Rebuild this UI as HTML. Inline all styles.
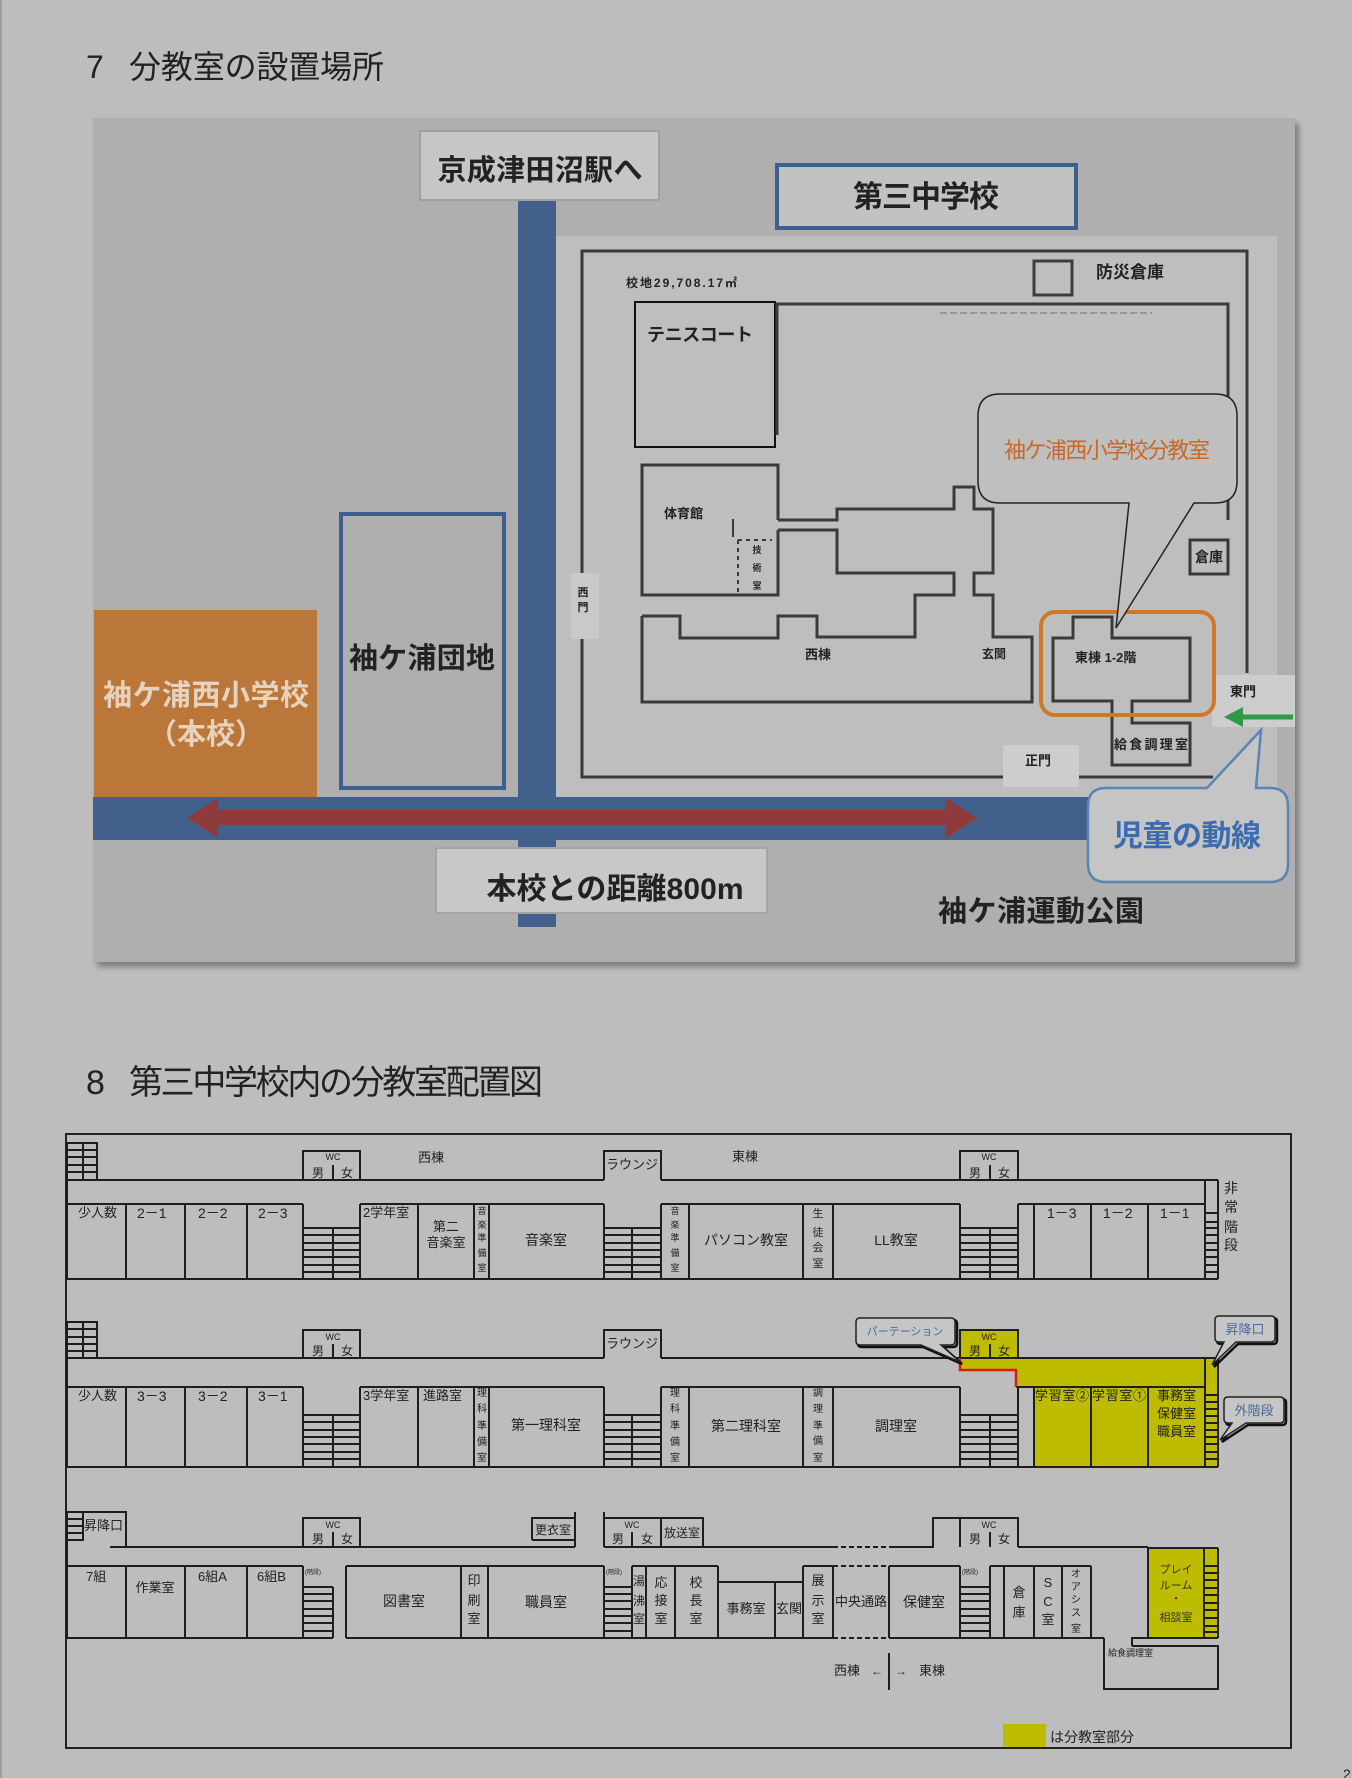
<!DOCTYPE html>
<html><head><meta charset="utf-8">
<style>
html,body{margin:0;padding:0;background:#bdbdbd;}
svg{display:block}
.t{font-family:"Liberation Sans","Noto Sans CJK JP",sans-serif;fill:#222;}
.b{font-weight:bold;}
.ln{fill:none;stroke:#1e1e1e;stroke-width:2;}
.bl{fill:none;stroke:#3a3a3a;stroke-width:3;}
</style></head>
<body>
<svg width="1352" height="1778" viewBox="0 0 1352 1778" xmlns="http://www.w3.org/2000/svg">
<defs>
<filter id="sh" x="-5%" y="-5%" width="110%" height="110%"><feGaussianBlur stdDeviation="3"/></filter>
</defs>
<rect x="0" y="0" width="1352" height="1778" fill="#bdbdbd"/>
<rect x="0" y="0" width="2" height="1778" fill="#9d9d9d"/>

<!-- Title 7 -->
<text class="t" x="86" y="78" font-size="32">7</text>
<text class="t" x="129" y="78" font-size="32" textLength="255">分教室の設置場所</text>

<!-- MAP -->
<rect x="97" y="123" width="1202" height="844" fill="#7e7e7e" filter="url(#sh)"/>
<rect x="93" y="118" width="1202" height="844" fill="#afafaf"/>
<rect x="556" y="236" width="721" height="561" fill="#bebebe"/>

<!-- roads -->
<rect x="518" y="200" width="38" height="727" fill="#41618c"/>
<rect x="93" y="797" width="997" height="43" fill="#41618c"/>

<!-- orange honkou -->
<rect x="94" y="610" width="223" height="187" fill="#bb763a"/>
<text class="t b" x="206" y="705" font-size="29" text-anchor="middle" style="fill:#e6d3bf" textLength="206">袖ケ浦西小学校</text>
<text class="t b" x="206" y="744" font-size="29" text-anchor="middle" style="fill:#e6d3bf">（本校）</text>

<!-- red arrow -->
<path d="M187,818 L218,798 L218,810 L946,810 L946,798 L977,818 L946,838 L946,825 L218,825 L218,838 Z" fill="#8f3b3b"/>

<!-- danchi -->
<rect x="341" y="514" width="163" height="274" fill="none" stroke="#3d5f8f" stroke-width="4"/>
<text class="t b" x="422" y="668" font-size="29" text-anchor="middle" textLength="146">袖ケ浦団地</text>

<!-- station box -->
<rect x="420" y="131" width="239" height="69" fill="#c6c6c6" stroke="#a0a0a0" stroke-width="2"/>
<text class="t b" x="540" y="180" font-size="29" text-anchor="middle" textLength="205">京成津田沼駅へ</text>

<!-- daisan chu box -->
<rect x="777" y="165" width="299" height="63" fill="#c2c2c2" stroke="#3d5f8f" stroke-width="4"/>
<text class="t b" x="926" y="207" font-size="30" text-anchor="middle" textLength="146">第三中学校</text>

<!-- distance box -->
<rect x="436" y="848" width="331" height="65" fill="#c8c8c8" stroke="#a5a5a5" stroke-width="2"/>
<text class="t b" x="615" y="899" font-size="30" text-anchor="middle" textLength="257">本校との距離800m</text>

<text class="t b" x="938" y="921" font-size="29" textLength="206">袖ケ浦運動公園</text>

<!-- campus boundary -->
<path class="bl" d="M582,575 V251 H1247 V673 M582,638 V777 H1003 M1079,777 H1213"/>
<rect x="571" y="573" width="28" height="66" fill="#c9c9c9"/>
<text class="t b" x="583" y="596" font-size="11" text-anchor="middle">西</text>
<text class="t b" x="583" y="611" font-size="11" text-anchor="middle">門</text>
<rect x="1003" y="745" width="76" height="42" fill="#cdcdcd"/>
<text class="t b" x="1025" y="765" font-size="13">正門</text>
<rect x="1212" y="675" width="83" height="52" fill="#cdcdcd"/>
<text class="t b" x="1230" y="696" font-size="13">東門</text>
<!-- green arrow -->
<path d="M1293,717 H1240" stroke="#2f9a45" stroke-width="5" fill="none"/>
<polygon points="1224,717 1243,707 1243,727" fill="#2f9a45"/>

<text class="t b" x="626" y="287" font-size="12" textLength="111">校地29,708.17㎡</text>
<rect x="1034" y="261" width="38" height="34" fill="none" stroke="#3d3d3d" stroke-width="3"/>
<text class="t b" x="1096" y="278" font-size="17">防災倉庫</text>

<rect x="635" y="302" width="140" height="145" fill="none" stroke="#111" stroke-width="2"/>
<text class="t b" x="647" y="341" font-size="18" textLength="106">テニスコート</text>

<path class="bl" d="M777,435 V304 H1228 V520"/>
<path d="M940,313 H1152" stroke="#8a8a8a" stroke-width="1.5" stroke-dasharray="7,3" fill="none"/>

<!-- buildings -->
<path class="bl" d="M778,520 V465 H642 V595 H778 V530"/>
<path class="bl" d="M642,616 H680 V638 H778 V616 H817 V637 H915 V595 H954 V573 H837 V530 H778 M778,520 H837 V509 H954 V487 H974 V509 H993 V573 H974 V595 H993 V637 H1032 V702 H642 V616"/>
<path d="M738,540 V595 M738,540 H772" stroke="#3a3a3a" stroke-width="2" stroke-dasharray="4,4" fill="none"/>
<path d="M733,519 V537" stroke="#3a3a3a" stroke-width="2"/>
<text class="t b" x="757" y="553" font-size="9" text-anchor="middle">技</text>
<text class="t b" x="757" y="571" font-size="9" text-anchor="middle">術</text>
<text class="t b" x="757" y="589" font-size="9" text-anchor="middle">室</text>
<text class="t b" x="664" y="518" font-size="13">体育館</text>
<text class="t b" x="805" y="659" font-size="13">西棟</text>
<text class="t b" x="982" y="658" font-size="12">玄関</text>

<rect x="1190" y="540" width="38" height="34" fill="none" stroke="#3a3a3a" stroke-width="3"/>
<text class="t b" x="1209" y="562" font-size="14" text-anchor="middle">倉庫</text>

<path class="bl" d="M1053,638 H1073 V617 H1112 V638 H1190 V701 H1132 V723 H1190 V765 H1112 V701 H1053 Z"/>
<text class="t b" x="1075" y="662" font-size="13">東棟 1-2階</text>
<text class="t b" x="1114" y="749" font-size="13" textLength="74">給食調理室</text>
<rect x="1041" y="612" width="173" height="103" rx="14" fill="none" stroke="#d0782a" stroke-width="4"/>

<!-- callout bunkyoshitsu -->
<path d="M1000,394 H1215 Q1237,394 1237,416 V481 Q1237,503 1215,503 H1194 L1116,628 L1129,503 H1000 Q978,503 978,481 V416 Q978,394 1000,394 Z" fill="#bfbfbf" stroke="#222" stroke-width="1.5"/>
<text class="t" x="1107" y="458" font-size="22" text-anchor="middle" style="fill:#c8682a" textLength="206">袖ケ浦西小学校分教室</text>

<!-- callout jido -->
<path d="M1106,788 H1207 L1261,730 L1256,788 H1270 Q1288,788 1288,806 V864 Q1288,882 1270,882 H1106 Q1088,882 1088,864 V806 Q1088,788 1106,788 Z" fill="#c5c5c5" stroke="#5a84b5" stroke-width="2.5"/>
<text class="t b" x="1187" y="846" font-size="30" text-anchor="middle" style="fill:#3c6cae" textLength="148">児童の動線</text>

<!-- Title 8 -->
<text class="t" x="86" y="1094" font-size="34">8</text>
<text class="t" x="129" y="1094" font-size="34" textLength="414">第三中学校内の分教室配置図</text>

<!-- FLOOR PLAN -->
<rect x="66" y="1134" width="1225" height="614" fill="none" stroke="#222" stroke-width="2"/>

<!-- yellow fills -->
<polygon points="960,1358 1218,1358 1218,1467 1034,1467 1034,1387 1016,1387 1016,1370 960,1370" fill="#bdbc00"/>
<rect x="960" y="1330" width="58" height="28" fill="#bdbc00"/>
<rect x="1148" y="1548" width="70" height="90" fill="#bdbc00"/>
<rect x="1003" y="1724" width="43" height="23" fill="#bdbc00"/>

<!-- Floor 2 -->
<path class="ln" d="M67,1143 H97 V1180 H67 M83,1143 V1180 M67,1150 H97 M67,1157 H97 M67,1165 H97 M67,1172 H97
M97,1180 H604 M303,1180 V1151 H360 V1180 M333,1165 V1180
M604,1180 V1151 H661 V1180 M661,1180 H1218
M960,1180 V1151 H1018 V1180 M990,1165 V1180
M1218,1180 V1279 M1205,1180 V1279
M67,1204 H303 M360,1204 H604 M661,1204 H960 M1018,1204 H1205
M67,1279 H1218 M67,1143 V1279
M126,1204 V1279 M185,1204 V1279 M247,1204 V1279 M303,1204 V1279 M360,1204 V1279 M418,1204 V1279 M474,1204 V1279 M489,1204 V1279 M604,1204 V1279 M661,1204 V1279 M689,1204 V1279 M803,1204 V1279 M833,1204 V1279 M960,1204 V1279 M1018,1204 V1279 M1034,1204 V1279 M1091,1204 V1279 M1148,1204 V1279
M303,1228 H360 M303,1235 H360 M303,1243 H360 M303,1250 H360 M303,1257 H360 M303,1265 H360 M303,1272 H360 M333,1228 V1279
M604,1228 H661 M604,1235 H661 M604,1243 H661 M604,1250 H661 M604,1257 H661 M604,1265 H661 M604,1272 H661 M632,1228 V1279
M960,1228 H1018 M960,1235 H1018 M960,1243 H1018 M960,1250 H1018 M960,1257 H1018 M960,1265 H1018 M960,1272 H1018 M990,1228 V1279
M1205,1213 H1218 M1205,1222 H1218 M1205,1228 H1218 M1205,1235 H1218 M1205,1243 H1218 M1205,1250 H1218 M1205,1257 H1218 M1205,1265 H1218 M1205,1272 H1218"/>

<!-- Floor 3 -->
<path class="ln" d="M67,1322 H97 V1358 H67 M83,1322 V1358 M67,1329 H97 M67,1337 H97 M67,1344 H97 M67,1351 H97
M97,1358 H604 M303,1358 V1330 H360 V1358 M333,1344 V1358
M604,1358 V1330 H661 V1358 M661,1358 H1218
M960,1358 V1330 H1018 V1358 M990,1344 V1358
M1218,1358 V1467 M1205,1358 V1467
M67,1387 H303 M360,1387 H604 M661,1387 H960 M1016,1387 H1205
M67,1467 H1218 M67,1322 V1467
M126,1387 V1467 M185,1387 V1467 M247,1387 V1467 M303,1387 V1467 M360,1387 V1467 M418,1387 V1467 M474,1387 V1467 M489,1387 V1467 M604,1387 V1467 M661,1387 V1467 M689,1387 V1467 M803,1387 V1467 M833,1387 V1467 M960,1387 V1467 M1018,1387 V1467 M1034,1387 V1467 M1091,1387 V1467 M1148,1387 V1467
M303,1415 H360 M303,1422 H360 M303,1430 H360 M303,1437 H360 M303,1444 H360 M303,1452 H360 M303,1459 H360 M333,1415 V1467
M604,1415 H661 M604,1422 H661 M604,1430 H661 M604,1437 H661 M604,1444 H661 M604,1452 H661 M604,1459 H661 M632,1415 V1467
M960,1415 H1018 M960,1422 H1018 M960,1430 H1018 M960,1437 H1018 M960,1444 H1018 M960,1452 H1018 M960,1459 H1018 M990,1415 V1467
M1205,1395 H1218 M1205,1402 H1218 M1205,1409 H1218 M1205,1416 H1218 M1205,1423 H1218 M1205,1430 H1218 M1205,1437 H1218 M1205,1444 H1218 M1205,1452 H1218 M1205,1459 H1218"/>
<path d="M960,1358 V1370 H1016 V1387" fill="none" stroke="#d41a1a" stroke-width="2.5"/>

<!-- Floor 1 -->
<path class="ln" d="M67,1512 H83 V1540 H67 M67,1519 H83 M67,1526 H83 M67,1533 H83 M67,1512 H126 V1547
M110,1547 H575 M303,1547 V1518 H360 V1547 M333,1532 V1547
M532,1540 V1518 H575 M532,1540 H575 M575,1512 V1547
M604,1512 V1547 M604,1518 H703 V1547 M661,1518 V1547 M632,1532 V1547
M604,1547 H833 M889,1547 H933 V1518 H1018 V1547 M960,1518 V1547 M990,1532 V1547 M1018,1547 H1148
M1148,1548 H1218 M1148,1548 V1638 M1218,1548 V1638 M1204,1548 V1638
M67,1566 H303 M346,1566 H604 M632,1566 H718 M718,1582 H803 M803,1566 H833 M889,1566 H960 M990,1566 H1091
M67,1638 H333 M346,1638 H833 M889,1638 H1104 M1132,1646 V1638 H1218
M67,1512 V1638
M126,1566 V1638 M185,1566 V1638 M247,1566 V1638 M303,1566 V1638 M346,1566 V1638 M461,1566 V1638 M488,1566 V1638 M604,1566 V1638 M632,1566 V1638 M646,1566 V1638 M675,1566 V1638 M718,1566 V1638 M775,1582 V1638 M803,1566 V1638 M833,1566 V1638 M889,1566 V1638 M960,1566 V1638 M990,1566 V1638 M1004,1566 V1638 M1034,1566 V1638 M1062,1566 V1638 M1091,1566 V1638
M303,1587 H333 M303,1594 H333 M303,1601 H333 M303,1609 H333 M303,1616 H333 M303,1623 H333 M303,1631 H333 M333,1587 V1638
M604,1587 H632 M604,1594 H632 M604,1601 H632 M604,1609 H632 M604,1616 H632 M604,1623 H632 M604,1631 H632
M960,1587 H990 M960,1594 H990 M960,1601 H990 M960,1609 H990 M960,1616 H990 M960,1623 H990 M960,1631 H990
M1204,1566 H1218 M1204,1573 H1218 M1204,1580 H1218 M1204,1588 H1218 M1204,1595 H1218 M1204,1603 H1218 M1204,1610 H1218 M1204,1618 H1218 M1204,1626 H1218 M1204,1632 H1218
M1104,1638 V1689 H1218 V1646 H1132
M889,1653 V1690"/>
<path d="M833,1547 H889 M833,1566 H889 M833,1638 H889" fill="none" stroke="#1e1e1e" stroke-width="2" stroke-dasharray="5,3"/>

<!-- callouts floor plan -->
<g transform="translate(2,2)">
<path d="M860,1318 H951 Q955,1318 955,1322 V1341 Q955,1345 951,1345 H941 L960,1362 L921,1345 H860 Q856,1345 856,1341 V1322 Q856,1318 860,1318 Z" fill="none" stroke="#111" stroke-width="2.5"/>
<path d="M1219,1316 H1271 Q1275,1316 1275,1320 V1338 Q1275,1342 1271,1342 H1236 L1212,1365 L1224,1342 H1219 Q1215,1342 1215,1338 V1320 Q1215,1316 1219,1316 Z" fill="none" stroke="#111" stroke-width="2.5"/>
<path d="M1228,1397 H1280 Q1284,1397 1284,1401 V1419 Q1284,1423 1280,1423 H1246 L1220,1440 L1232,1423 H1228 Q1224,1423 1224,1419 V1401 Q1224,1397 1228,1397 Z" fill="none" stroke="#111" stroke-width="2.5"/>
</g>
<path d="M860,1318 H951 Q955,1318 955,1322 V1341 Q955,1345 951,1345 H941 L960,1362 L921,1345 H860 Q856,1345 856,1341 V1322 Q856,1318 860,1318 Z" fill="#c6c6c6" stroke="#222" stroke-width="1.5"/>
<path d="M1219,1316 H1271 Q1275,1316 1275,1320 V1338 Q1275,1342 1271,1342 H1236 L1212,1365 L1224,1342 H1219 Q1215,1342 1215,1338 V1320 Q1215,1316 1219,1316 Z" fill="#c6c6c6" stroke="#222" stroke-width="1.5"/>
<path d="M1228,1397 H1280 Q1284,1397 1284,1401 V1419 Q1284,1423 1280,1423 H1246 L1220,1440 L1232,1423 H1228 Q1224,1423 1224,1419 V1401 Q1224,1397 1228,1397 Z" fill="#c6c6c6" stroke="#222" stroke-width="1.5"/>
<text class="t" x="905" y="1335" font-size="11" text-anchor="middle" style="fill:#4a6a9a">パーテーション</text>
<text class="t" x="1245" y="1334" font-size="13" text-anchor="middle" style="fill:#4a6a9a">昇降口</text>
<text class="t" x="1254" y="1415" font-size="13" text-anchor="middle" style="fill:#4a6a9a">外階段</text>

<!-- Floor 2 labels -->
<g class="t" font-size="13">
<text x="418" y="1162">西棟</text>
<text x="732" y="1161">東棟</text>
<text x="333" y="1160" font-size="9" text-anchor="middle">WC</text>
<text x="318" y="1177" font-size="12" text-anchor="middle">男</text>
<text x="347" y="1177" font-size="12" text-anchor="middle">女</text>
<text x="989" y="1160" font-size="9" text-anchor="middle">WC</text>
<text x="975" y="1177" font-size="12" text-anchor="middle">男</text>
<text x="1004" y="1177" font-size="12" text-anchor="middle">女</text>
<text x="632" y="1169" text-anchor="middle">ラウンジ</text>
<text x="78" y="1217">少人数</text>
<text x="137" y="1218" font-size="14">2－1</text>
<text x="198" y="1218" font-size="14">2－2</text>
<text x="258" y="1218" font-size="14">2－3</text>
<text x="363" y="1217">2学年室</text>
<text x="446" y="1231" text-anchor="middle">第二</text>
<text x="446" y="1247" text-anchor="middle">音楽室</text>
<text x="546" y="1245" font-size="14" text-anchor="middle">音楽室</text>
<text x="746" y="1245" font-size="14" text-anchor="middle">パソコン教室</text>
<text x="896" y="1245" font-size="14" text-anchor="middle">LL教室</text>
<text x="1047" y="1218" font-size="14">1－3</text>
<text x="1103" y="1218" font-size="14">1－2</text>
<text x="1160" y="1218" font-size="14">1－1</text>
<g font-size="9" text-anchor="middle">
<text x="482" y="1214">音</text><text x="482" y="1228">楽</text><text x="482" y="1241">準</text><text x="482" y="1256">備</text><text x="482" y="1271">室</text>
<text x="675" y="1214">音</text><text x="675" y="1228">楽</text><text x="675" y="1241">準</text><text x="675" y="1256">備</text><text x="675" y="1271">室</text>
</g>
<g font-size="11" text-anchor="middle">
<text x="818" y="1217">生</text><text x="818" y="1236">徒</text><text x="818" y="1251">会</text><text x="818" y="1267">室</text>
</g>
<g font-size="14">
<text x="1224" y="1193">非</text><text x="1224" y="1212">常</text><text x="1224" y="1232">階</text><text x="1224" y="1250">段</text>
</g>
</g>

<!-- Floor 3 labels -->
<g class="t" font-size="13">
<text x="333" y="1340" font-size="9" text-anchor="middle">WC</text>
<text x="318" y="1355" font-size="12" text-anchor="middle">男</text>
<text x="347" y="1355" font-size="12" text-anchor="middle">女</text>
<text x="989" y="1340" font-size="9" text-anchor="middle">WC</text>
<text x="975" y="1355" font-size="12" text-anchor="middle">男</text>
<text x="1004" y="1355" font-size="12" text-anchor="middle">女</text>
<text x="632" y="1348" text-anchor="middle">ラウンジ</text>
<text x="78" y="1400">少人数</text>
<text x="137" y="1401" font-size="14">3－3</text>
<text x="198" y="1401" font-size="14">3－2</text>
<text x="258" y="1401" font-size="14">3－1</text>
<text x="363" y="1400">3学年室</text>
<text x="423" y="1400">進路室</text>
<text x="546" y="1430" font-size="14" text-anchor="middle">第一理科室</text>
<text x="746" y="1431" font-size="14" text-anchor="middle">第二理科室</text>
<text x="896" y="1431" font-size="14" text-anchor="middle">調理室</text>
<text x="1035" y="1400" textLength="54">学習室②</text>
<text x="1092" y="1400" textLength="54">学習室①</text>
<text x="1157" y="1400">事務室</text>
<text x="1157" y="1418">保健室</text>
<text x="1157" y="1436">職員室</text>
<g font-size="10" text-anchor="middle">
<text x="482" y="1396">理</text><text x="482" y="1412">科</text><text x="482" y="1429">準</text><text x="482" y="1445">備</text><text x="482" y="1461">室</text>
<text x="675" y="1396">理</text><text x="675" y="1412">科</text><text x="675" y="1429">準</text><text x="675" y="1445">備</text><text x="675" y="1461">室</text>
<text x="818" y="1396">調</text><text x="818" y="1412">理</text><text x="818" y="1429">準</text><text x="818" y="1444">備</text><text x="818" y="1461">室</text>
</g>
</g>

<!-- Floor 1 labels -->
<g class="t" font-size="13">
<text x="84" y="1530">昇降口</text>
<text x="333" y="1528" font-size="9" text-anchor="middle">WC</text>
<text x="318" y="1543" font-size="12" text-anchor="middle">男</text>
<text x="347" y="1543" font-size="12" text-anchor="middle">女</text>
<text x="553" y="1534" font-size="12" text-anchor="middle">更衣室</text>
<text x="632" y="1528" font-size="9" text-anchor="middle">WC</text>
<text x="618" y="1543" font-size="12" text-anchor="middle">男</text>
<text x="647" y="1543" font-size="12" text-anchor="middle">女</text>
<text x="682" y="1537" font-size="12" text-anchor="middle">放送室</text>
<text x="989" y="1528" font-size="9" text-anchor="middle">WC</text>
<text x="975" y="1543" font-size="12" text-anchor="middle">男</text>
<text x="1004" y="1543" font-size="12" text-anchor="middle">女</text>
<text x="86" y="1581">7組</text>
<text x="155" y="1592" text-anchor="middle">作業室</text>
<text x="198" y="1581">6組A</text>
<text x="257" y="1581">6組B</text>
<text x="305" y="1574" font-size="6">(階段)</text>
<text x="606" y="1574" font-size="6">(階段)</text>
<text x="962" y="1574" font-size="6">(階段)</text>
<text x="404" y="1606" font-size="14" text-anchor="middle">図書室</text>
<text x="546" y="1607" font-size="14" text-anchor="middle">職員室</text>
<text x="746" y="1613" text-anchor="middle">事務室</text>
<text x="789" y="1613" text-anchor="middle">玄関</text>
<text x="861" y="1606" text-anchor="middle">中央通路</text>
<text x="924" y="1607" font-size="14" text-anchor="middle">保健室</text>
<g text-anchor="middle">
<text x="474" y="1585">印</text><text x="474" y="1605">刷</text><text x="474" y="1623">室</text>
<text x="639" y="1585" font-size="12">湯</text><text x="639" y="1605" font-size="12">沸</text><text x="639" y="1623" font-size="12">室</text>
<text x="661" y="1587">応</text><text x="661" y="1605">接</text><text x="661" y="1623">室</text>
<text x="696" y="1587">校</text><text x="696" y="1605">長</text><text x="696" y="1623">室</text>
<text x="818" y="1585">展</text><text x="818" y="1605">示</text><text x="818" y="1623">室</text>
<text x="1019" y="1597">倉</text><text x="1019" y="1617">庫</text>
<text x="1048" y="1587">S</text><text x="1048" y="1606">C</text><text x="1048" y="1624">室</text>
<text x="1076" y="1577" font-size="10">オ</text><text x="1076" y="1590" font-size="10">ア</text><text x="1076" y="1603" font-size="10">シ</text><text x="1076" y="1616" font-size="10">ス</text><text x="1076" y="1632" font-size="10">室</text>
<text x="1176" y="1573" font-size="11" style="fill:#333">プレイ</text>
<text x="1176" y="1589" font-size="11" style="fill:#333">ルーム</text>
<text x="1176" y="1602" font-size="11" style="fill:#333">・</text>
<text x="1176" y="1621" font-size="11" style="fill:#333">相談室</text>
</g>
<text x="1108" y="1656" font-size="9">給食調理室</text>
<text x="847" y="1675" text-anchor="middle">西棟</text>
<text x="877" y="1675" font-size="12" text-anchor="middle">←</text>
<text x="901" y="1675" font-size="12" text-anchor="middle">→</text>
<text x="932" y="1675" text-anchor="middle">東棟</text>
<text x="1050" y="1742" font-size="14">は分教室部分</text>
</g>

<text class="t" x="1343" y="1779" font-size="14">2</text>
</svg>
</body></html>
